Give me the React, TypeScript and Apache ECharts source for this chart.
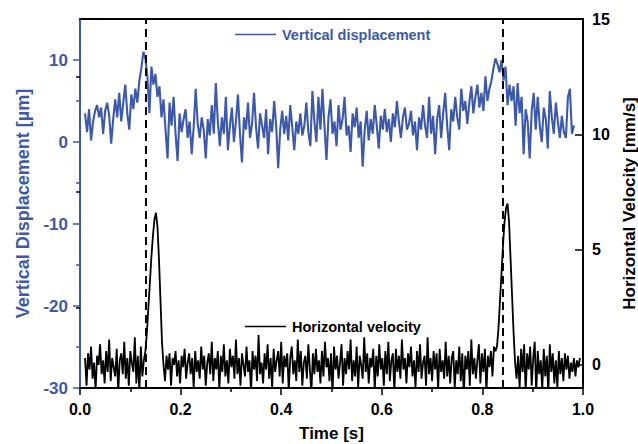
import React, { useEffect, useRef } from "react";
import * as echarts from "echarts";

// Vertical displacement [µm], sampled from t = 0.010 s every 0.004 s
const DISP_T0 = 0.01;
const DISP_DT = 0.004;
const DISPLACEMENT = [
  3.5, 1.2, 4.0, 0.2, 2.5, 3.8, 4.5, 3.0, 4.2, 1.0, 3.8, 4.8, 3.2, -0.2, 2.8, 5.2, 3.0, 6.0, 2.5, 4.8, 7.0, 3.5, 1.5, 5.8, 4.0,
  6.5, 4.8, 7.5, 9.0, 11.0, 10.2, 8.0, 3.5, 9.2, 7.0, 8.3, 5.5, 6.8, 3.0, 5.2, 1.5, -2.0, 4.8, 2.0, 5.5, 1.0, -2.3, 3.5, 1.2, 2.8,
  4.0, 0.5, 2.5, -1.5, 1.8, 6.5, 2.2, 0.5, 3.0, 1.5, -2.0, 2.8, 0.8, 4.5, 1.0, 7.2, 2.5, -0.5, 3.0, 1.0, 5.5, -1.0, 2.0, 4.2, 0.0,
  2.5, 5.8, 1.0, -2.5, 3.0, 1.5, 4.8, 0.5, 2.2, 6.0, 1.8, -0.8, 3.5, 2.0, 0.5, 4.0, -1.5, 2.8, 1.2, 5.0, 2.0, -3.2, 1.5, 3.8, 1.0,
  3.2, 0.2, 4.5, 1.8, -1.0, 2.5, 1.0, 3.5, 0.8, 2.0, 4.8, 1.2, -0.5, 6.2, 2.5, 0.0, 5.5, 1.5, 6.5, 2.0, -2.2, 3.0, 5.2, 1.0, 2.5,
  -0.5, 4.5, 1.5, 2.8, 5.5, 0.8, 2.0, -1.2, 3.5, 1.8, 4.2, 0.5, 2.5, -3.0, 1.5, 3.8, 0.2, 2.8, 1.0, 4.5, 2.0, -0.8, 3.2, 1.5, 4.0,
  1.2, 2.8, 0.0, 3.5, 1.8, 5.0, 2.5, 0.5, 3.0, 4.2, 1.5, 2.2, 3.8, 0.8, 2.5, -1.0, 3.0, 1.5, 4.5, 2.0, 0.5, 5.5, 1.0, 3.2, -1.5,
  2.8, 4.5, 0.5, 3.5, 6.0, 2.0, -1.0, 4.0, 2.5, 5.5, 3.0, 1.5, 6.5, 3.8, 5.0, 2.2, 4.8, 6.8, 3.5, 5.5, 7.0, 4.2, 6.0, 3.8, 8.0,
  5.0, 6.5, 7.5, 9.0, 10.2, 9.5, 8.5, 10.0, 7.5, 9.2, 4.5, 7.0, 5.0, 6.8, 2.0, 7.2, 3.5, 5.5, -1.5, 4.0, 2.5, -2.0, 3.8, 6.0, 1.5,
  5.5, 2.0, 0.0, 4.2, 2.8, -0.8, 6.2, 3.0, 1.0, 4.8, 2.5, 0.5, 3.2, 1.2, 0.5, 5.5, 6.5, 1.0, 2.0,
];

// Horizontal velocity [mm/s], sampled from t = 0.010 s every 0.003 s
const VEL_T0 = 0.01;
const VEL_DT = 0.003;
const VELOCITY = [
  0.3, -0.9, 0.5, -0.2, 0.8, -0.6, 0.1, -1.1, 0.4, 0.0, 0.9, -0.4, 0.2, -0.8, 0.6, -0.3, 1.1, -0.7, 0.3, -0.1,
  -0.5, 0.7, -1.2, 0.2, 0.5, -0.4, 1.0, -0.6, 0.3, -0.9, 0.6, 0.1, -0.3, 1.2, -0.8, 0.4, -1.2, 0.8, -0.5, 0.2,
  0.6, 1.4, 2.5, 3.6, 4.7, 5.6, 6.3, 6.6, 6.0, 4.6, 2.8, 1.0, 0.0,
  -0.7, 0.4, -0.2, 0.5, -0.9, 0.3, 0.0, 0.6, -0.5, 0.2, -0.8, 0.4, -0.1, 0.7, -0.6, 0.1, 0.5, -0.4, 0.3, -1.0,
  0.6, -0.3, 0.2, -0.6, 0.8, -0.2, 0.4, -0.9, 0.1, 0.5, -0.4, 1.0, -0.7, 0.3, -0.2, 0.6, -1.1, 0.4, -0.3, 0.9,
  -0.5, 0.2, -0.8, 0.7, -0.1, 0.4, -0.6, 1.1, -0.4, 0.3, -0.9, 0.5, 0.0, -0.5, 0.8, -0.3, 0.2, -1.2, 0.6, -0.2,
  0.4, -0.7, 1.3, -0.4, 0.1, -0.8, 0.5, -0.2, 0.9, -0.6, 0.3, -1.0, 0.7, -0.3, 0.2, 0.6, -0.5, 1.0, -0.8, 0.4,
  -0.1, 0.5, -1.1, 0.3, 0.8, -0.4, 0.2, -0.7, 1.1, -0.3, 0.6, -0.9, 0.1, 0.4, -0.6, 0.9, -0.2, -1.2, 0.5, -0.4,
  0.7, -0.3, 0.2, -0.8, 0.6, -0.5, 1.0, -0.1, 0.3, -0.7, 0.5, -1.3, 0.8, -0.2, 0.4, -0.6, 0.1, 0.9, -0.9, 0.3,
  -0.4, 0.6, -0.2, 1.1, -0.7, 0.2, -0.5, 0.8, -1.0, 0.4, 0.0, -0.6, 1.2, -0.3, 0.5, -0.8, 0.3, -0.1, 0.7, -1.1,
  0.4, -0.5, 0.9, -0.2, 0.3, -0.9, 0.6, -0.4, 1.0, -0.7, 0.2, 0.5, -1.2, 0.7, -0.3, 0.4, -0.6, 1.1, -0.2, 0.3,
  -0.8, 0.5, -0.1, 0.8, -0.5, 0.2, -1.0, 0.6, -0.3, 0.9, -0.6, 0.1, 0.4, -0.9, 1.2, -0.4, 0.3, -0.7, 0.6, -0.2,
  0.5, -1.1, 0.7, -0.3, 0.2, -0.6, 1.0, -0.5, 0.4, -0.8, 0.3, 0.6, -1.0, 0.2, -0.4, 0.8, -0.7, 0.5, -1.3, 0.4,
  -0.2, 0.6, -0.9, 1.1, -0.4, 0.3, -0.6, 0.2, 0.9, -0.8, 0.5, -0.3, 0.7, -1.2, 0.4, -0.1, 0.6, -0.5, 0.8, 0.6,
  0.8, 1.6, 2.8, 4.0, 5.2, 6.2, 6.8, 7.0, 6.2, 4.6, 3.0, 1.4, 0.1,
  -0.6, 0.4, -1.0, 0.7, -0.3, 0.9, -1.2, 0.5, -0.2, 0.8, -0.9, 0.3, 1.0, -1.3, 0.6, -0.4, 0.2, -1.1, 0.7, -0.5,
  0.4, -1.2, 0.9, -0.3, 0.5, -0.8, 0.2, -1.0, 0.6, -0.4, 0.3, -0.7, 0.5, -0.2, 0.4, -0.6, 0.1, -0.3, 0.3, -0.5,
  0.2, -0.1, 0.3,
];

// Vertical dashed marker lines [s]
const DASH_TIMES = [0.126, 0.8376];

// Tick values
const X_TICKS = { min: 0, max: 1, interval: 0.2 };
const LEFT_RANGE = { min: -30, max: 15, interval: 5 };
const LEFT_MAJOR = [-30, -20, -10, 0, 10];
const LEFT_MINOR = [-25, -15, -5, 5];
const RIGHT_RANGE = { min: -1, max: 15, interval: 1 };
const RIGHT_MAJOR = [0, 5, 10, 15];
const RIGHT_MINOR = [2.5, 7.5, 12.5];

const BLUE = "#3d59a9";
const FONT = "Liberation Sans, Arial, sans-serif";

export default function App() {
  const ref = useRef<HTMLDivElement>(null);

  useEffect(() => {
    if (!ref.current) return;
    const chart = echarts.init(ref.current, undefined, { renderer: "svg" });

    const dispData = DISPLACEMENT.map((v, i) => [+(DISP_T0 + i * DISP_DT).toFixed(4), v]);
    const velData = VELOCITY.map((v, i) => [+(VEL_T0 + i * VEL_DT).toFixed(4), v]);

    chart.setOption({
      animation: false,
      backgroundColor: "#ffffff",
      textStyle: { fontFamily: FONT },
      grid: { left: 80, right: 55, top: 19, bottom: 56, containLabel: false, outerBoundsMode: "none" },
      legend: [
        {
          data: ["Vertical displacement"],
          left: 235,
          top: 27,
          padding: 0,
          icon: "rect",
          itemWidth: 41,
          itemHeight: 1.6,
          itemStyle: { color: BLUE, borderWidth: 0 },
          textStyle: { color: BLUE, fontWeight: "bold", fontSize: 14.5, fontFamily: FONT, padding: [0, 0, 0, 1] },
        },
        {
          data: ["Horizontal velocity"],
          left: 245,
          top: 319,
          padding: 0,
          icon: "rect",
          itemWidth: 41,
          itemHeight: 1.6,
          itemStyle: { color: "#000", borderWidth: 0 },
          textStyle: { color: "#000", fontWeight: "bold", fontSize: 14.5, fontFamily: FONT, padding: [0, 0, 0, 1] },
        },
      ],
      xAxis: [
        {
          type: "value",
          min: X_TICKS.min,
          max: X_TICKS.max,
          interval: X_TICKS.interval,
          name: "Time [s]",
          nameLocation: "middle",
          nameGap: 37,
          nameTextStyle: { fontWeight: "bold", fontSize: 17, color: "#000", fontFamily: FONT },
          axisLine: { show: true, onZero: false, lineStyle: { color: "#000", width: 2 } },
          axisTick: { show: true, inside: false, length: 7, lineStyle: { color: "#000", width: 1.5 } },
          minorTick: { show: true, splitNumber: 2, length: 4, lineStyle: { color: "#000", width: 1.5 } },
          axisLabel: {
            formatter: (v: number) => v.toFixed(1),
            fontWeight: "bold",
            fontSize: 16,
            color: "#000",
            margin: 13,
            fontFamily: FONT,
          },
          splitLine: { show: false },
          minorSplitLine: { show: false },
        },
        {
          type: "value",
          position: "top",
          min: X_TICKS.min,
          max: X_TICKS.max,
          axisLine: { show: true, onZero: false, lineStyle: { color: "#000", width: 2 } },
          axisTick: { show: false },
          axisLabel: { show: false },
          splitLine: { show: false },
        },
      ],
      yAxis: [
        {
          type: "value",
          position: "left",
          min: LEFT_RANGE.min,
          max: LEFT_RANGE.max,
          interval: LEFT_RANGE.interval,
          name: "Vertical Displacement [µm]",
          nameLocation: "middle",
          nameGap: 48,
          nameRotate: 90,
          nameTextStyle: { fontWeight: "bold", fontSize: 18, color: BLUE, fontFamily: FONT },
          axisLine: { show: true, onZero: false, lineStyle: { color: BLUE, width: 2 } },
          axisTick: { show: true, inside: false, length: 7, customValues: LEFT_MAJOR, lineStyle: { color: BLUE, width: 1.5 } },
          axisLabel: {
            formatter: (v: number) => (LEFT_MAJOR.includes(Math.round(v)) ? String(Math.round(v)) : ""),
            fontWeight: "bold",
            fontSize: 17,
            color: BLUE,
            margin: 12,
            fontFamily: FONT,
          },
          splitLine: { show: false },
        },
        {
          type: "value",
          position: "right",
          min: RIGHT_RANGE.min,
          max: RIGHT_RANGE.max,
          interval: RIGHT_RANGE.interval,
          name: "Horizontal Velocity [mm/s]",
          nameLocation: "middle",
          nameGap: 32,
          nameRotate: 90,
          nameTextStyle: { fontWeight: "bold", fontSize: 17, color: "#000", fontFamily: FONT },
          axisLine: { show: true, onZero: false, lineStyle: { color: "#000", width: 2 } },
          axisTick: { show: true, inside: true, length: 8, customValues: RIGHT_MAJOR, lineStyle: { color: "#000", width: 1.5 } },
          axisLabel: {
            formatter: (v: number) => (RIGHT_MAJOR.includes(Math.round(v)) ? String(Math.round(v)) : ""),
            fontWeight: "bold",
            fontSize: 16,
            color: "#000",
            margin: 9,
            fontFamily: FONT,
          },
          splitLine: { show: false },
        },
        {
          type: "value",
          position: "left",
          min: LEFT_RANGE.min,
          max: LEFT_RANGE.max,
          axisLine: { show: false },
          axisTick: { show: true, inside: false, length: 4, customValues: LEFT_MINOR, lineStyle: { color: BLUE, width: 1.5 } },
          axisLabel: { show: false },
          splitLine: { show: false },
        },
        {
          type: "value",
          position: "right",
          min: RIGHT_RANGE.min,
          max: RIGHT_RANGE.max,
          axisLine: { show: false },
          axisTick: { show: true, inside: true, length: 4, customValues: RIGHT_MINOR, lineStyle: { color: "#000", width: 1.5 } },
          axisLabel: { show: false },
          splitLine: { show: false },
        },
      ],
      series: [
        {
          name: "Vertical displacement",
          type: "line",
          xAxisIndex: 0,
          yAxisIndex: 0,
          data: dispData,
          symbol: "none",
          showSymbol: false,
          lineStyle: { color: BLUE, width: 2.1 },
          itemStyle: { color: BLUE },
          z: 2,
        },
        {
          name: "Horizontal velocity",
          type: "line",
          xAxisIndex: 0,
          yAxisIndex: 1,
          data: velData,
          symbol: "none",
          showSymbol: false,
          lineStyle: { color: "#000", width: 1.8 },
          itemStyle: { color: "#000" },
          z: 3,
          markLine: {
            silent: true,
            symbol: ["none", "none"],
            label: { show: false },
            lineStyle: { color: "#000", type: [8, 5], width: 2 },
            data: DASH_TIMES.map((t) => ({ xAxis: t })),
            z: 5,
          },
        },
      ],
    });

    return () => chart.dispose();
  }, []);

  return (
    <div
      ref={ref}
      style={{ position: "fixed", left: 0, top: 0, width: 638, height: 444, background: "#fff" }}
    />
  );
}
